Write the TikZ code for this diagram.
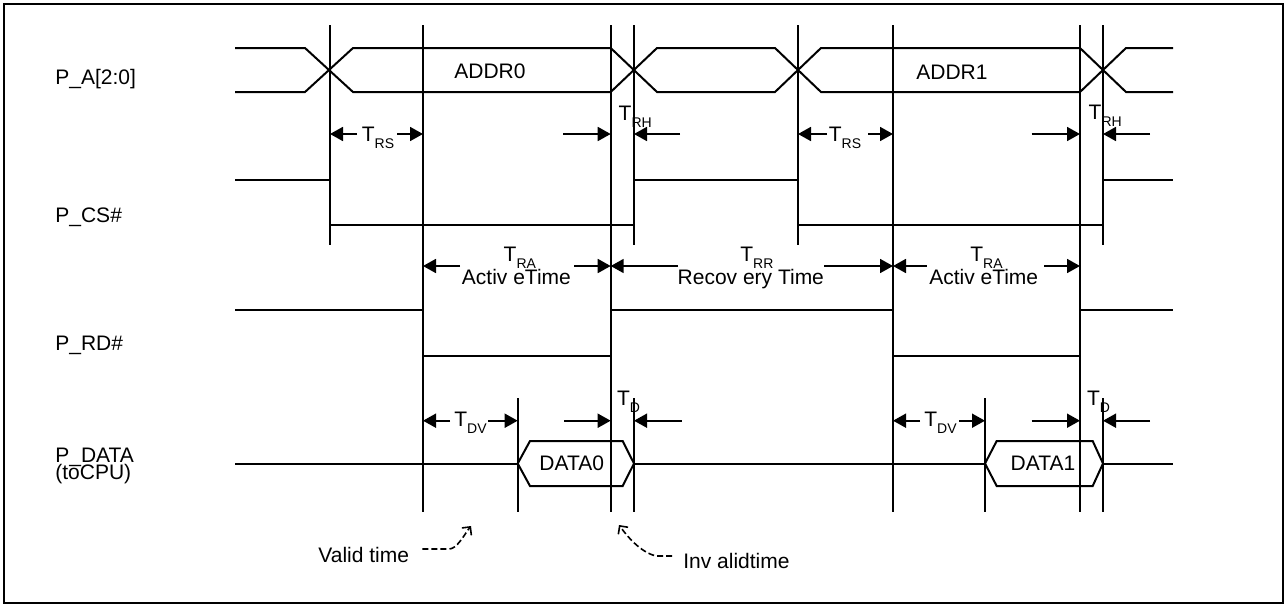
\documentclass[tikz,border=0pt]{standalone}
\usepackage{fontspec}
\setmainfont{Liberation Sans}
\usetikzlibrary{arrows.meta}
% bus cycle event times (pixel grid: x to the right, y downwards)
\def\xA{330}    % address change, CS# falls
\def\xB{423}    % RD# falls
\def\xC{610.7}  % RD# rises
\def\xD{634}    % CS# rises, address change
\def\xE{798}
\def\xF{893}
\def\xG{1080}
\def\xH{1103}
\def\xP{517.7}  % DATA0 valid
\def\xQ{985}    % DATA1 valid
% signal levels
\def\yAh{48}
\def\yAl{92}
\def\yCh{180}
\def\yCl{225}
\def\yRh{310}
\def\yRl{356}
\def\yD{463.5}
\newcommand{\tsub}[1]{\raisebox{-3.5pt}{\fontsize{7}{8}\selectfont #1}}

\begin{document}
\begin{tikzpicture}[
    x=0.5pt, y=-0.5pt,
    every node/.style={font=\fontsize{10.5}{12}\selectfont, inner sep=0pt},
    sig/.style={line width=1pt, line join=miter},
    edge/.style={line width=0.9pt},
    tarr/.style={-{Triangle[length=6.5pt,width=7pt]}, line width=0.9pt},
    note/.style={-{Straight Barb[length=3pt,width=6pt]}, line width=0.8pt,
                 dash pattern=on 3pt off 1.5pt},
    lbl/.style={anchor=base west},
    ]
\useasboundingbox (0,0) rectangle (1287,606);

% ====================================================================
% Frame and signal names
% ====================================================================
\draw[line width=1.1pt] (4,4) rectangle (1283,603);
\node[lbl] (lbA) at (55,84) {P\_A[2:0]};
\node[lbl] (lbCS) at (55,222) {P\_CS\#};
\node[lbl] (lbRD) at (55,350) {P\_RD\#};
\node[lbl] (lbData) at (55,462) {P\_DATA};
\node[lbl] (lbCPU) at (55,479) {(toCPU)};

% ====================================================================
% Waveforms
% ====================================================================
% P_A[2:0]
\draw[sig] (235,\yAh) -- (305,\yAh) -- (353,\yAl) -- (\xC,\yAl) -- (657,\yAh)
  -- (775,\yAh) -- (821,\yAl) -- (\xG,\yAl) -- (1126,\yAh) -- (1173,\yAh);
\draw[sig] (235,\yAl) -- (305,\yAl) -- (353,\yAh) -- (\xC,\yAh) -- (657,\yAl)
  -- (775,\yAl) -- (821,\yAh) -- (\xG,\yAh) -- (1126,\yAl) -- (1173,\yAl);
\node[anchor=base] (addr0) at (490,78.5) {ADDR0};
\node[anchor=base] (addr1) at (952,79) {ADDR1};

% P_CS#
\draw[sig] (235,\yCh) -- (\xA,\yCh) -- (\xA,\yCl) -- (\xD,\yCl) -- (\xD,\yCh)
  -- (\xE,\yCh) -- (\xE,\yCl) -- (\xH,\yCl) -- (\xH,\yCh) -- (1173,\yCh);

% P_RD#
\draw[sig] (235,\yRh) -- (\xB,\yRh) -- (\xB,\yRl) -- (\xC,\yRl) -- (\xC,\yRh)
  -- (\xF,\yRh) -- (\xF,\yRl) -- (\xG,\yRl) -- (\xG,\yRh) -- (1173,\yRh);

% P_DATA
\draw[sig] (235,\yD) -- (\xP,\yD);
\draw[sig] (\xD,\yD) -- (\xQ,\yD);
\draw[sig] (\xH,\yD) -- (1173,\yD);
\draw[sig] (\xP,\yD) -- (530,441) -- (622.7,441) -- (\xD,\yD)
  -- (622.7,486) -- (530,486) -- cycle;
\draw[sig] (\xQ,\yD) -- (996.7,441) -- (1092.7,441) -- (\xH,\yD)
  -- (1092.7,486) -- (996.7,486) -- cycle;
\node[anchor=base] (data0) at (571.7,470.5) {DATA0};
\node[anchor=base] (data1) at (1043,470.5) {DATA1};

% Reference edges
\foreach \x in {\xA,\xD,\xE,\xH}
  \draw[edge] (\x,25) -- (\x,245);
\foreach \x in {\xB,\xC,\xF,\xG}
  \draw[edge] (\x,25) -- (\x,512);
\foreach \x in {\xP,\xD,\xQ,\xH}
  \draw[edge] (\x,398) -- (\x,512);

% ====================================================================
% Timing parameters
% ====================================================================
% T_RS / T_RH
\draw[tarr] (357,134) -- (\xA,134);
\draw[tarr] (397,134) -- (\xB,134);
\node[lbl] (trs1) at (361.5,141) {T\tsub{RS}};
\draw[tarr] (563,134) -- (\xC,134);
\draw[tarr] (680,134) -- (\xD,134);
\node[lbl] (trh1) at (618.3,120) {T\tsub{RH}};
\draw[tarr] (827,134) -- (\xE,134);
\draw[tarr] (868,134) -- (\xF,134);
\node[lbl] (trs2) at (828.5,141) {T\tsub{RS}};
\draw[tarr] (1031.7,134) -- (\xG,134);
\draw[tarr] (1150,134) -- (\xH,134);
\node[lbl] (trh2) at (1088.3,119.5) {T\tsub{RH}};

% T_RA / T_RR
\draw[tarr] (460,266) -- (\xB,266);
\draw[tarr] (574,266) -- (\xC,266);
\node[lbl] (tra1) at (503.3,261.7) {T\tsub{RA}};
\node[anchor=base] (act1) at (516.4,284) {Activ eTime};
\draw[tarr] (678,266) -- (\xC,266);
\draw[tarr] (824,266) -- (\xF,266);
\node[lbl] (trr) at (740,261.7) {T\tsub{RR}};
\node[anchor=base] (recov) at (750.8,284) {Recov ery Time};
\draw[tarr] (926.7,266) -- (\xF,266);
\draw[tarr] (1044,266) -- (\xG,266);
\node[lbl] (tra2) at (970,261.7) {T\tsub{RA}};
\node[anchor=base] (act2) at (983.7,284) {Activ eTime};

% T_DV / T_D
\draw[tarr] (450,420.7) -- (\xB,420.7);
\draw[tarr] (488,420.7) -- (\xP,420.7);
\node[lbl] (tdv1) at (454,426.7) {T\tsub{DV}};
\draw[tarr] (564,420.7) -- (\xC,420.7);
\draw[tarr] (681.7,420.7) -- (\xD,420.7);
\node[lbl] (td1) at (616.7,405) {T\tsub{D}};
\draw[tarr] (920,420.7) -- (\xF,420.7);
\draw[tarr] (959,420.7) -- (\xQ,420.7);
\node[lbl] (tdv2) at (924,426.7) {T\tsub{DV}};
\draw[tarr] (1031.7,420.7) -- (\xG,420.7);
\draw[tarr] (1150,420.7) -- (\xH,420.7);
\node[lbl] (td2) at (1086.7,405) {T\tsub{D}};

% Valid / invalid notes
\node[lbl] (valid) at (318,562) {Valid time};
\node[lbl] (inval) at (683,568) {Inv alidtime};
\coordinate (vtip) at (471,526);
\coordinate (itip) at (619,525);
\draw[note] ([xshift=6.5pt,yshift=2.75pt]valid.east) -- (449,549)
  .. controls (457,549) and (464,535) .. (vtip);
\draw[note] ([xshift=-5.5pt,yshift=2.25pt]inval.west) -- (656,556)
  .. controls (640,552) and (627,536) .. (itip);

\end{tikzpicture}
\end{document}
